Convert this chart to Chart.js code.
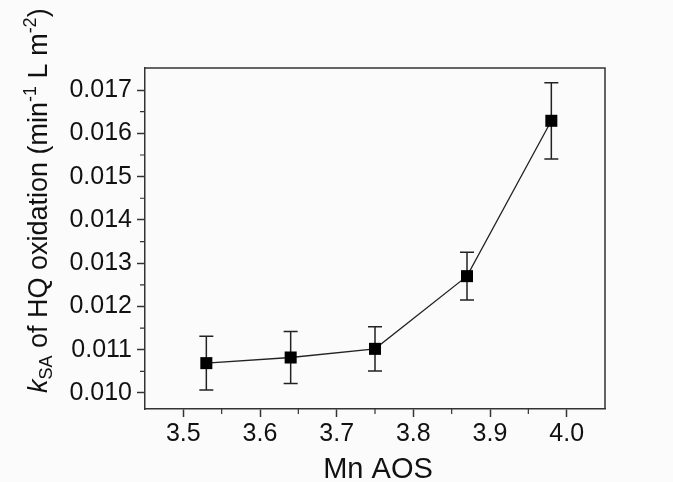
<!DOCTYPE html>
<html lang="en">
<head>
    <meta charset="UTF-8">
    <title>kSA vs Mn AOS</title>
    <style>
        body {
            margin: 0;
            padding: 0;
            background-color: #fbfbfb;
        }
        canvas {
            display: block;
        }
    </style>
    <script src="https://cdn.jsdelivr.net/npm/chart.js"></script>
</head>
<body>
    <canvas id="chart" width="673" height="482"></canvas>
    <script>
        // values
        const aos = [3.53, 3.64, 3.75, 3.87, 3.98];
        const kSA = [0.01069, 0.01082, 0.01102, 0.01270, 0.01629];
        const kErr = [0.00062, 0.00060, 0.00051, 0.00055, 0.00088];

        const xTicks = [3.5, 3.6, 3.7, 3.8, 3.9, 4.0];
        const yTicks = [0.010, 0.011, 0.012, 0.013, 0.014, 0.015, 0.016, 0.017];

        const axisColor = '#333';
        const textColor = '#111';
        const fontFamily = 'Arial, "Liberation Sans", sans-serif';

        // error bars, frame, minor ticks and axis titles
        const extras = {
            id: 'extras',
            beforeDatasetsDraw(chart) {
                const ctx = chart.ctx;
                const x = chart.scales.x, y = chart.scales.y;
                ctx.save();
                ctx.strokeStyle = '#222';
                ctx.lineWidth = 1.5;
                for (let i = 0; i < aos.length; i++) {
                    const px = x.getPixelForValue(aos[i]);
                    const top = y.getPixelForValue(kSA[i] + kErr[i]);
                    const bot = y.getPixelForValue(kSA[i] - kErr[i]);
                    ctx.beginPath();
                    ctx.moveTo(px, top);
                    ctx.lineTo(px, bot);
                    ctx.moveTo(px - 7, top);
                    ctx.lineTo(px + 7, top);
                    ctx.moveTo(px - 7, bot);
                    ctx.lineTo(px + 7, bot);
                    ctx.stroke();
                }
                ctx.restore();
            },
            afterDraw(chart) {
                const ctx = chart.ctx;
                const a = chart.chartArea;
                const x = chart.scales.x, y = chart.scales.y;
                ctx.save();
                ctx.strokeStyle = axisColor;
                ctx.lineWidth = 1.5;
                ctx.beginPath();
                ctx.moveTo(a.left, a.top);
                ctx.lineTo(a.right, a.top);
                ctx.lineTo(a.right, a.bottom);
                ctx.stroke();

                // minor ticks halfway between the major ones
                ctx.lineWidth = 1.2;
                ctx.beginPath();
                yTicks.forEach(v => {
                    const m = v + 0.0005;
                    if (m < y.max - 0.00002) {
                        const py = y.getPixelForValue(m);
                        ctx.moveTo(a.left - 5, py);
                        ctx.lineTo(a.left, py);
                    }
                });
                xTicks.forEach(v => {
                    const m = v + 0.05;
                    if (m < x.max - 0.002) {
                        const px = x.getPixelForValue(m);
                        ctx.moveTo(px, a.bottom);
                        ctx.lineTo(px, a.bottom + 5);
                    }
                });
                ctx.stroke();

                // x title
                ctx.fillStyle = textColor;
                ctx.font = '29px ' + fontFamily;
                ctx.textAlign = 'center';
                ctx.textBaseline = 'alphabetic';
                ctx.fillText('Mn AOS', (a.left + a.right) / 2 + 3, 478);

                // y title with sub/superscripts
                ctx.translate(47, 393);
                ctx.rotate(-Math.PI / 2);
                ctx.textAlign = 'left';
                const big = '27px ' + fontFamily;
                const small = '18px ' + fontFamily;
                const parts = [
                    { t: 'k', f: 'italic ' + big, dy: 0 },
                    { t: 'SA', f: small, dy: 5 },
                    { t: ' of HQ oxidation (min', f: big, dy: 0 },
                    { t: '-1', f: small, dy: -11 },
                    { t: ' L m', f: big, dy: 0 },
                    { t: '-2', f: small, dy: -11 },
                    { t: ')', f: big, dy: 0 }
                ];
                let cx = 0;
                parts.forEach(p => {
                    ctx.font = p.f;
                    ctx.fillText(p.t, cx, p.dy);
                    cx += ctx.measureText(p.t).width;
                });
                ctx.restore();
            }
        };

        new Chart(document.getElementById('chart'), {
            type: 'scatter',
            data: {
                datasets: [{
                    data: aos.map((v, i) => ({ x: v, y: kSA[i] })),
                    showLine: true,
                    borderColor: '#222',
                    borderWidth: 1.3,
                    backgroundColor: '#000',
                    pointStyle: 'rect',
                    pointRadius: 8.5,
                    pointHoverRadius: 8.5,
                    pointBorderWidth: 0
                }]
            },
            options: {
                responsive: false,
                animation: false,
                layout: {
                    padding: { top: 68, right: 68, left: 0, bottom: 0 }
                },
                plugins: {
                    legend: { display: false },
                    tooltip: { enabled: false }
                },
                scales: {
                    x: {
                        type: 'linear',
                        min: 3.45,
                        max: 4.05,
                        afterFit: s => { s.height = 73; },
                        afterBuildTicks: s => { s.ticks = xTicks.map(v => ({ value: v })); },
                        grid: { drawOnChartArea: false, tickLength: 8, tickColor: axisColor, tickWidth: 1.5 },
                        border: { color: axisColor, width: 1.5 },
                        ticks: {
                            padding: 2,
                            color: textColor,
                            font: { family: fontFamily, size: 25 },
                            callback: v => v.toFixed(1)
                        }
                    },
                    y: {
                        min: 0.00963,
                        max: 0.01751,
                        afterFit: s => { s.width = 145; },
                        afterBuildTicks: s => { s.ticks = yTicks.map(v => ({ value: v })); },
                        grid: { drawOnChartArea: false, tickLength: 8, tickColor: axisColor, tickWidth: 1.5 },
                        border: { color: axisColor, width: 1.5 },
                        ticks: {
                            padding: 5,
                            color: textColor,
                            font: { family: fontFamily, size: 25 },
                            callback: v => v.toFixed(3)
                        }
                    }
                }
            },
            plugins: [extras]
        });
    </script>
</body>
</html>
